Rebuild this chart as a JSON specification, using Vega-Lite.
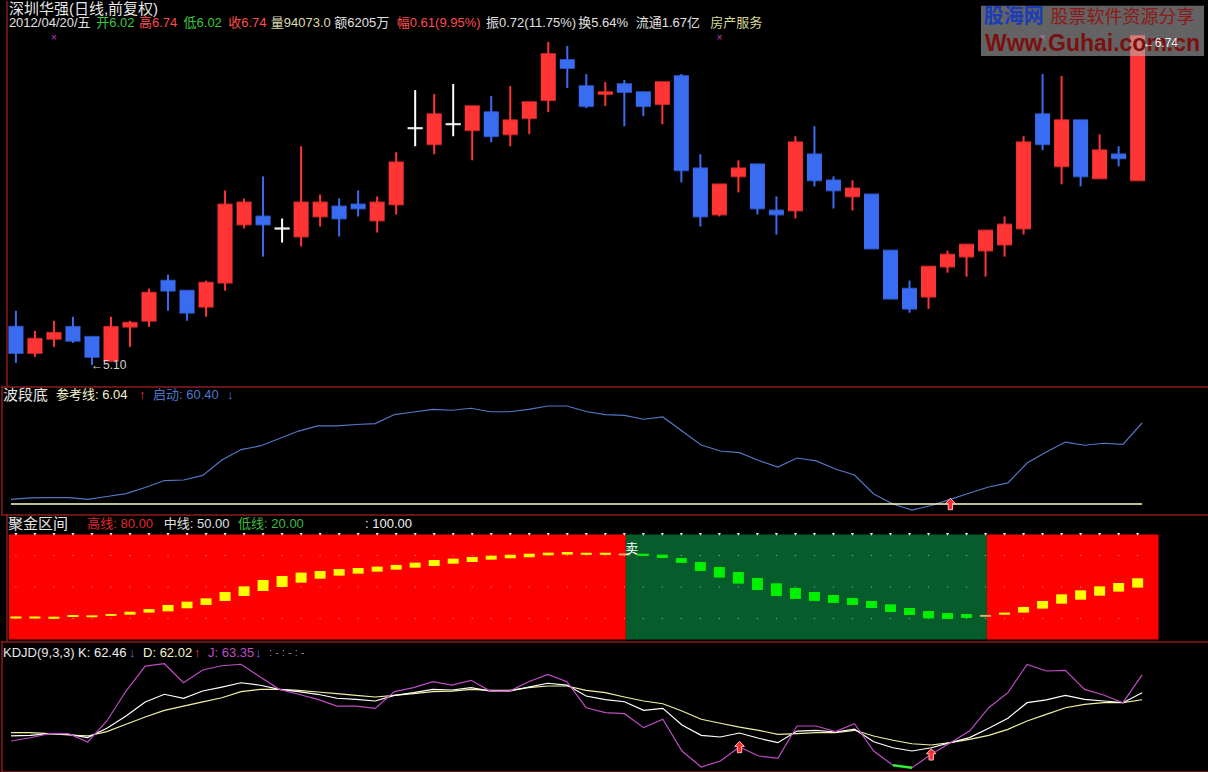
{
"$schema":"https://vega.github.io/schema/vega-lite/v6.json",
"background":"#000000",
"padding":0,
"spacing":0,
"bounds":"flush",
"config":{"view":{"stroke":null},"text":{"font":"Liberation Sans, Noto Sans CJK SC"}},
"datasets":{
"bars":[
{"i":0,"o":5.29,"h":5.37,"l":5.11,"c":5.16,"w":3.5,"K":28.6,"D":31.7,"J":23.8,"sh":22.0,"sl":20.0,"z":"up"},
{"i":1,"o":5.16,"h":5.27,"l":5.14,"c":5.23,"w":4.5,"K":29.2,"D":31.7,"J":26.9,"sh":22.0,"sl":20.0,"z":"up"},
{"i":2,"o":5.23,"h":5.32,"l":5.19,"c":5.26,"w":4.7,"K":30.8,"D":30.8,"J":30.8,"sh":21.7,"sl":19.7,"z":"up"},
{"i":3,"o":5.29,"h":5.34,"l":5.21,"c":5.22,"w":4.7,"K":30.2,"D":29.5,"J":30.8,"sh":23.3,"sl":21.4,"z":"up"},
{"i":4,"o":5.24,"h":5.24,"l":5.10,"c":5.14,"w":3.5,"K":27.0,"D":28.6,"J":22.9,"sh":23.0,"sl":21.2,"z":"up"},
{"i":5,"o":5.12,"h":5.34,"l":5.12,"c":5.29,"w":5.6,"K":35.9,"D":32.7,"J":42.9,"sh":24.3,"sl":22.5,"z":"up"},
{"i":6,"o":5.29,"h":5.32,"l":5.19,"c":5.31,"w":7.7,"K":47.6,"D":39.7,"J":71.4,"sh":26.5,"sl":23.6,"z":"up"},
{"i":7,"o":5.32,"h":5.48,"l":5.29,"c":5.46,"w":12.3,"K":61.0,"D":46.7,"J":95.2,"sh":29.0,"sl":25.6,"z":"up"},
{"i":8,"o":5.52,"h":5.55,"l":5.37,"c":5.47,"w":17.5,"K":68.3,"D":53.0,"J":97.4,"sh":32.9,"sl":26.8,"z":"up"},
{"i":9,"o":5.47,"h":5.47,"l":5.32,"c":5.36,"w":17.9,"K":64.5,"D":57.1,"J":79.3,"sh":36.0,"sl":29.7,"z":"up"},
{"i":10,"o":5.39,"h":5.52,"l":5.34,"c":5.51,"w":21.3,"K":71.4,"D":61.0,"J":91.4,"sh":39.2,"sl":32.9,"z":"up"},
{"i":11,"o":5.51,"h":5.97,"l":5.47,"c":5.90,"w":32.8,"K":75.2,"D":65.0,"J":95.5,"sh":45.2,"sl":36.7,"z":"up"},
{"i":12,"o":5.80,"h":5.93,"l":5.78,"c":5.91,"w":40.6,"K":79.3,"D":70.8,"J":96.9,"sh":50.6,"sl":41.4,"z":"up"},
{"i":13,"o":5.84,"h":6.04,"l":5.64,"c":5.80,"w":43.3,"K":76.9,"D":73.0,"J":84.8,"sh":56.7,"sl":46.2,"z":"up"},
{"i":14,"o":5.78,"h":5.83,"l":5.71,"c":5.78,"w":48.8,"K":73.0,"D":73.0,"J":73.0,"sh":60.5,"sl":50.0,"z":"up"},
{"i":15,"o":5.74,"h":6.19,"l":5.69,"c":5.91,"w":54.4,"K":70.8,"D":72.1,"J":68.3,"sh":63.7,"sl":54.1,"z":"up"},
{"i":16,"o":5.84,"h":5.95,"l":5.79,"c":5.91,"w":58.2,"K":68.3,"D":70.5,"J":63.5,"sh":65.2,"sl":57.9,"z":"up"},
{"i":17,"o":5.89,"h":5.93,"l":5.74,"c":5.83,"w":58.2,"K":64.5,"D":68.9,"J":57.1,"sh":67.1,"sl":60.8,"z":"up"},
{"i":18,"o":5.90,"h":5.97,"l":5.84,"c":5.88,"w":59.3,"K":63.5,"D":67.3,"J":57.1,"sh":68.1,"sl":62.7,"z":"up"},
{"i":19,"o":5.82,"h":5.94,"l":5.76,"c":5.91,"w":60.0,"K":61.9,"D":65.7,"J":54.9,"sh":69.4,"sl":64.6,"z":"up"},
{"i":20,"o":5.90,"h":6.16,"l":5.85,"c":6.11,"w":66.7,"K":67.3,"D":67.3,"J":70.8,"sh":71.0,"sl":66.5,"z":"up"},
{"i":21,"o":6.28,"h":6.47,"l":6.19,"c":6.28,"w":68.6,"K":69.8,"D":68.9,"J":74.6,"sh":73.2,"sl":68.4,"z":"up"},
{"i":22,"o":6.20,"h":6.45,"l":6.15,"c":6.35,"w":70.6,"K":73.0,"D":70.8,"J":80.3,"sh":75.7,"sl":70.0,"z":"up"},
{"i":23,"o":6.30,"h":6.50,"l":6.24,"c":6.30,"w":69.9,"K":72.4,"D":71.4,"J":77.1,"sh":77.0,"sl":72.2,"z":"up"},
{"i":24,"o":6.27,"h":6.39,"l":6.12,"c":6.39,"w":71.4,"K":74.6,"D":73.0,"J":81.6,"sh":78.6,"sl":73.8,"z":"up"},
{"i":25,"o":6.36,"h":6.44,"l":6.21,"c":6.24,"w":68.8,"K":71.4,"D":72.1,"J":71.4,"sh":79.8,"sl":76.0,"z":"up"},
{"i":26,"o":6.25,"h":6.49,"l":6.19,"c":6.32,"w":68.8,"K":71.4,"D":72.1,"J":71.4,"sh":80.8,"sl":77.3,"z":"up"},
{"i":27,"o":6.33,"h":6.41,"l":6.25,"c":6.41,"w":70.6,"K":75.2,"D":74.6,"J":80.3,"sh":81.7,"sl":78.3,"z":"up"},
{"i":28,"o":6.42,"h":6.71,"l":6.36,"c":6.65,"w":73.1,"K":78.8,"D":76.2,"J":87.3,"sh":82.7,"sl":80.2,"z":"up"},
{"i":29,"o":6.62,"h":6.69,"l":6.48,"c":6.58,"w":73.1,"K":77.1,"D":76.2,"J":80.3,"sh":83.3,"sl":80.8,"z":"up"},
{"i":30,"o":6.49,"h":6.55,"l":6.38,"c":6.39,"w":69.0,"K":66.7,"D":72.1,"J":55.5,"sh":82.6,"sl":80.6,"z":"up"},
{"i":31,"o":6.45,"h":6.51,"l":6.39,"c":6.46,"w":66.7,"K":63.3,"D":69.8,"J":50.8,"sh":82.6,"sl":80.6,"z":"up"},
{"i":32,"o":6.50,"h":6.52,"l":6.29,"c":6.46,"w":66.1,"K":61.2,"D":65.7,"J":49.8,"sh":81.9,"sl":80.1,"z":"turn"},
{"i":33,"o":6.46,"h":6.46,"l":6.34,"c":6.39,"w":63.2,"K":53.0,"D":61.9,"J":36.5,"sh":81.7,"sl":79.5,"z":"down"},
{"i":34,"o":6.40,"h":6.51,"l":6.30,"c":6.51,"w":64.9,"K":54.9,"D":59.3,"J":44.5,"sh":80.8,"sl":77.6,"z":"down"},
{"i":35,"o":6.54,"h":6.55,"l":6.01,"c":6.07,"w":54.4,"K":39.0,"D":52.4,"J":14.3,"sh":77.6,"sl":72.9,"z":"down"},
{"i":36,"o":6.08,"h":6.15,"l":5.79,"c":5.84,"w":44.0,"K":29.2,"D":44.5,"J":-1.0,"sh":73.8,"sl":65.2,"z":"down"},
{"i":37,"o":5.85,"h":6.00,"l":5.84,"c":6.00,"w":39.5,"K":27.6,"D":40.7,"J":4.8,"sh":69.0,"sl":58.9,"z":"down"},
{"i":38,"o":6.04,"h":6.12,"l":5.96,"c":6.08,"w":38.3,"K":31.4,"D":37.1,"J":18.1,"sh":64.3,"sl":53.2,"z":"down"},
{"i":39,"o":6.10,"h":6.10,"l":5.85,"c":5.88,"w":32.4,"K":26.4,"D":34.0,"J":9.5,"sh":58.6,"sl":47.1,"z":"down"},
{"i":40,"o":5.87,"h":5.94,"l":5.75,"c":5.85,"w":27.6,"K":22.2,"D":30.2,"J":7.3,"sh":53.5,"sl":41.4,"z":"down"},
{"i":41,"o":5.87,"h":6.24,"l":5.83,"c":6.21,"w":34.3,"K":33.3,"D":30.8,"J":38.1,"sh":49.2,"sl":38.6,"z":"down"},
{"i":42,"o":6.15,"h":6.29,"l":5.99,"c":6.02,"w":32.1,"K":34.0,"D":31.7,"J":38.1,"sh":45.2,"sl":36.7,"z":"down"},
{"i":43,"o":6.02,"h":6.04,"l":5.88,"c":5.97,"w":26.1,"K":32.4,"D":31.7,"J":32.7,"sh":42.4,"sl":34.8,"z":"down"},
{"i":44,"o":5.94,"h":6.02,"l":5.87,"c":5.98,"w":21.6,"K":35.0,"D":34.0,"J":40.3,"sh":39.5,"sl":32.9,"z":"down"},
{"i":45,"o":5.95,"h":5.95,"l":5.68,"c":5.68,"w":7.5,"K":23.1,"D":28.6,"J":14.3,"sh":36.7,"sl":30.0,"z":"down"},
{"i":46,"o":5.67,"h":5.67,"l":5.43,"c":5.43,"w":0.0,"K":17.4,"D":24.5,"J":0.7,"sh":33.5,"sl":26.2,"z":"down"},
{"i":47,"o":5.48,"h":5.52,"l":5.36,"c":5.38,"w":-4.5,"K":14.3,"D":21.2,"J":-1.6,"sh":30.0,"sl":23.3,"z":"down"},
{"i":48,"o":5.44,"h":5.59,"l":5.38,"c":5.59,"w":-1.1,"K":17.4,"D":20.0,"J":11.1,"sh":27.1,"sl":20.1,"z":"down"},
{"i":49,"o":5.59,"h":5.67,"l":5.56,"c":5.65,"w":3.4,"K":22.2,"D":22.2,"J":22.2,"sh":25.2,"sl":19.5,"z":"down"},
{"i":50,"o":5.64,"h":5.70,"l":5.54,"c":5.70,"w":8.2,"K":27.0,"D":25.4,"J":33.3,"sh":24.3,"sl":20.5,"z":"down"},
{"i":51,"o":5.67,"h":5.77,"l":5.54,"c":5.77,"w":12.7,"K":35.9,"D":29.2,"J":55.5,"sh":23.4,"sl":21.6,"z":"turn"},
{"i":52,"o":5.70,"h":5.84,"l":5.64,"c":5.80,"w":15.7,"K":45.4,"D":34.9,"J":69.8,"sh":25.6,"sl":23.6,"z":"up"},
{"i":53,"o":5.78,"h":6.24,"l":5.75,"c":6.21,"w":30.6,"K":60.3,"D":42.9,"J":96.8,"sh":31.0,"sl":25.6,"z":"up"},
{"i":54,"o":6.35,"h":6.55,"l":6.17,"c":6.20,"w":38.8,"K":62.9,"D":49.2,"J":90.5,"sh":36.7,"sl":29.4,"z":"up"},
{"i":55,"o":6.09,"h":6.54,"l":6.00,"c":6.32,"w":46.2,"K":67.3,"D":55.5,"J":91.1,"sh":43.0,"sl":34.1,"z":"up"},
{"i":56,"o":6.32,"h":6.32,"l":5.99,"c":6.04,"w":43.8,"K":63.5,"D":58.7,"J":73.0,"sh":46.8,"sl":37.9,"z":"up"},
{"i":57,"o":6.03,"h":6.25,"l":6.03,"c":6.17,"w":45.3,"K":61.9,"D":60.3,"J":67.6,"sh":50.6,"sl":41.7,"z":"up"},
{"i":58,"o":6.15,"h":6.19,"l":6.09,"c":6.13,"w":44.5,"K":60.3,"D":60.3,"J":60.3,"sh":53.8,"sl":45.6,"z":"up"},
{"i":59,"o":6.02,"h":6.74,"l":6.02,"c":6.74,"w":60.4,"K":69.8,"D":63.1,"J":86.7,"sh":58.3,"sl":49.4,"z":"up"}
],
"zones":[
{"a":-0.37,"b":32.08,"z":"red"},
{"a":32.08,"b":51.07,"z":"green"},
{"a":51.07,"b":60.1,"z":"red"}
]
},
"vconcat":[
{
"width":1208,"height":385,
"layer":[
{"data":{"name":"bars"},"mark":{"type":"rule","strokeWidth":2},
 "encoding":{"x":{"field":"i","type":"quantitative","scale":{"domain":[-0.522,62.49],"nice":false,"zero":false},"axis":null},
 "y":{"field":"l","type":"quantitative","scale":{"domain":[4.995,6.914],"nice":false,"zero":false},"axis":null},"y2":{"field":"h"},
 "color":{"condition":[{"test":"datum.c > datum.o","value":"#ff3434"},{"test":"datum.c < datum.o","value":"#3a6cf2"}],"value":"#ffffff"}}},
{"data":{"name":"bars"},"mark":{"type":"bar","size":15,"orient":"vertical"},
 "encoding":{"x":{"field":"i","type":"quantitative","scale":{"domain":[-0.522,62.49],"nice":false,"zero":false},"axis":null},
 "y":{"field":"o","type":"quantitative","scale":{"domain":[4.995,6.914],"nice":false,"zero":false},"axis":null},"y2":{"field":"c"},
 "color":{"condition":[{"test":"datum.c > datum.o","value":"#ff3434"},{"test":"datum.c < datum.o","value":"#3a6cf2"}],"value":"#ffffff"}}},
{"data":{"name":"bars"},"mark":{"type":"tick","size":15,"thickness":2,"orient":"horizontal"},
 "encoding":{"x":{"field":"i","type":"quantitative","scale":{"domain":[-0.522,62.49],"nice":false,"zero":false},"axis":null},
 "y":{"field":"c","type":"quantitative","scale":{"domain":[4.995,6.914],"nice":false,"zero":false},"axis":null},
 "color":{"condition":[{"test":"datum.c > datum.o","value":"#ff3434"},{"test":"datum.c < datum.o","value":"#3a6cf2"}],"value":"#ffffff"}}},
{"data":{"name":"bars"},"mark":{"type":"tick","size":15,"thickness":2,"orient":"horizontal"},
 "encoding":{"x":{"field":"i","type":"quantitative","scale":{"domain":[-0.522,62.49],"nice":false,"zero":false},"axis":null},
 "y":{"field":"o","type":"quantitative","scale":{"domain":[4.995,6.914],"nice":false,"zero":false},"axis":null},
 "color":{"condition":[{"test":"datum.c > datum.o","value":"#ff3434"},{"test":"datum.c < datum.o","value":"#3a6cf2"}],"value":"#ffffff"}}},
{"data":{"name":"bars"},"transform":[{"filter":"datum.i == 4"}],
 "mark":{"type":"text","text":"←5.10","align":"left","baseline":"middle","fontSize":12,"color":"#d4d4d4","dx":-1},
 "encoding":{"x":{"field":"i","type":"quantitative","scale":{"domain":[-0.522,62.49],"nice":false,"zero":false},"axis":null},
 "y":{"field":"l","type":"quantitative","scale":{"domain":[4.995,6.914],"nice":false,"zero":false},"axis":null}}},
{"data":{"name":"bars"},"transform":[{"filter":"datum.i == 2 || datum.i == 37 || datum.i == 54"}],
 "mark":{"type":"text","text":"×","align":"center","baseline":"middle","fontSize":10,"color":"#c040c0"},
 "encoding":{"x":{"field":"i","type":"quantitative","scale":{"domain":[-0.522,62.49],"nice":false,"zero":false},"axis":null},
 "y":{"datum":6.73,"type":"quantitative","scale":{"domain":[4.995,6.914],"nice":false,"zero":false},"axis":null}}},
{"data":{"values":[{}]},
 "encoding":{"y":{"datum":6.875,"type":"quantitative","scale":{"domain":[4.995,6.914],"nice":false,"zero":false},"axis":null}},
 "layer":[
  {"mark":{"type":"text","text":"深圳华强(日线,前复权)","align":"left","baseline":"middle","fontSize":15,"color":"#e6e6e6"},
   "encoding":{"x":{"datum":-0.37,"type":"quantitative","scale":{"domain":[-0.522,62.49],"nice":false,"zero":false},"axis":null}}}
 ]},
{"data":{"values":[{}]},
 "encoding":{"y":{"datum":6.805,"type":"quantitative","scale":{"domain":[4.995,6.914],"nice":false,"zero":false},"axis":null}},
 "layer":[
  {"mark":{"type":"text","text":"2012/04/20/五","align":"left","baseline":"middle","fontSize":13,"color":"#e0e0e0"},
   "encoding":{"x":{"datum":-0.37,"type":"quantitative","scale":{"domain":[-0.522,62.49],"nice":false,"zero":false},"axis":null}}},
  {"mark":{"type":"text","text":"开6.02","align":"left","baseline":"middle","fontSize":13,"color":"#3cc83c"},
   "encoding":{"x":{"datum":4.225,"type":"quantitative","scale":{"domain":[-0.522,62.49],"nice":false,"zero":false},"axis":null}}},
  {"mark":{"type":"text","text":"高6.74","align":"left","baseline":"middle","fontSize":13,"color":"#ff4c4c"},
   "encoding":{"x":{"datum":6.468,"type":"quantitative","scale":{"domain":[-0.522,62.49],"nice":false,"zero":false},"axis":null}}},
  {"mark":{"type":"text","text":"低6.02","align":"left","baseline":"middle","fontSize":13,"color":"#3cc83c"},
   "encoding":{"x":{"datum":8.816,"type":"quantitative","scale":{"domain":[-0.522,62.49],"nice":false,"zero":false},"axis":null}}},
  {"mark":{"type":"text","text":"收6.74","align":"left","baseline":"middle","fontSize":13,"color":"#ff4c4c"},
   "encoding":{"x":{"datum":11.163,"type":"quantitative","scale":{"domain":[-0.522,62.49],"nice":false,"zero":false},"axis":null}}},
  {"mark":{"type":"text","text":"量94073.0","align":"left","baseline":"middle","fontSize":13,"color":"#dcdcb0"},
   "encoding":{"x":{"datum":13.406,"type":"quantitative","scale":{"domain":[-0.522,62.49],"nice":false,"zero":false},"axis":null}}},
  {"mark":{"type":"text","text":"额6205万","align":"left","baseline":"middle","fontSize":13,"color":"#e0e0e0"},
   "encoding":{"x":{"datum":16.745,"type":"quantitative","scale":{"domain":[-0.522,62.49],"nice":false,"zero":false},"axis":null}}},
  {"mark":{"type":"text","text":"幅0.61(9.95%)","align":"left","baseline":"middle","fontSize":13,"color":"#ff4c4c"},
   "encoding":{"x":{"datum":20.031,"type":"quantitative","scale":{"domain":[-0.522,62.49],"nice":false,"zero":false},"axis":null}}},
  {"mark":{"type":"text","text":"振0.72(11.75%)","align":"left","baseline":"middle","fontSize":13,"color":"#e0e0e0"},
   "encoding":{"x":{"datum":24.726,"type":"quantitative","scale":{"domain":[-0.522,62.49],"nice":false,"zero":false},"axis":null}}},
  {"mark":{"type":"text","text":"换5.64%","align":"left","baseline":"middle","fontSize":13,"color":"#e0e0e0"},
   "encoding":{"x":{"datum":29.578,"type":"quantitative","scale":{"domain":[-0.522,62.49],"nice":false,"zero":false},"axis":null}}},
  {"mark":{"type":"text","text":"流通1.67亿","align":"left","baseline":"middle","fontSize":13,"color":"#e0e0e0"},
   "encoding":{"x":{"datum":32.603,"type":"quantitative","scale":{"domain":[-0.522,62.49],"nice":false,"zero":false},"axis":null}}},
  {"mark":{"type":"text","text":"房产服务","align":"left","baseline":"middle","fontSize":13,"color":"#d8d890"},
   "encoding":{"x":{"datum":36.516,"type":"quantitative","scale":{"domain":[-0.522,62.49],"nice":false,"zero":false},"axis":null}}}
 ]},
{"data":{"values":[{}]},"mark":{"type":"rect","color":"#b4b4b4","opacity":0.55},
 "encoding":{"x":{"datum":50.76,"type":"quantitative","scale":{"domain":[-0.522,62.49],"nice":false,"zero":false},"axis":null},"x2":{"datum":62.49},
 "y":{"datum":6.89,"type":"quantitative","scale":{"domain":[4.995,6.914],"nice":false,"zero":false},"axis":null},"y2":{"datum":6.64}}},
{"data":{"values":[{}]},"mark":{"type":"text","text":"股海网","align":"left","baseline":"middle","fontSize":20,"fontWeight":"bold","color":"#1a3cb8"},
 "encoding":{"x":{"datum":50.91,"type":"quantitative","scale":{"domain":[-0.522,62.49],"nice":false,"zero":false},"axis":null},
 "y":{"datum":6.835,"type":"quantitative","scale":{"domain":[4.995,6.914],"nice":false,"zero":false},"axis":null}}},
{"data":{"values":[{}]},"mark":{"type":"text","text":"股票软件资源分享","align":"left","baseline":"middle","fontSize":18,"color":"#8c1a1a"},
 "encoding":{"x":{"datum":54.41,"type":"quantitative","scale":{"domain":[-0.522,62.49],"nice":false,"zero":false},"axis":null},
 "y":{"datum":6.83,"type":"quantitative","scale":{"domain":[4.995,6.914],"nice":false,"zero":false},"axis":null}}},
{"data":{"values":[{}]},"mark":{"type":"text","text":"Www.Guhai.com.cn","align":"left","baseline":"middle","fontSize":23,"fontWeight":"bold","color":"#7a1010"},
 "encoding":{"x":{"datum":50.97,"type":"quantitative","scale":{"domain":[-0.522,62.49],"nice":false,"zero":false},"axis":null},
 "y":{"datum":6.70,"type":"quantitative","scale":{"domain":[4.995,6.914],"nice":false,"zero":false},"axis":null}}},
{"data":{"name":"bars"},"transform":[{"filter":"datum.i == 59"}],
 "mark":{"type":"text","text":"←6.74","align":"left","baseline":"middle","fontSize":12,"color":"#f0f0f0","dx":5,"dy":7},
 "encoding":{"x":{"field":"i","type":"quantitative","scale":{"domain":[-0.522,62.49],"nice":false,"zero":false},"axis":null},
 "y":{"field":"h","type":"quantitative","scale":{"domain":[4.995,6.914],"nice":false,"zero":false},"axis":null}}},
{"data":{"values":[{}]},"mark":{"type":"rule","color":"#8c1c1c","strokeWidth":1.5},
 "encoding":{"x":{"datum":-0.47,"type":"quantitative","scale":{"domain":[-0.522,62.49],"nice":false,"zero":false},"axis":null}}}
]
},
{
"width":1208,"height":128,
"layer":[
{"data":{"name":"bars"},"mark":{"type":"line","color":"#5577c6","strokeWidth":1.2},
 "encoding":{"x":{"field":"i","type":"quantitative","scale":{"domain":[-0.522,62.49],"nice":false,"zero":false},"axis":null},
 "y":{"field":"w","type":"quantitative","scale":{"domain":[-7.46,88.0],"nice":false,"zero":false},"axis":null}}},
{"data":{"values":[{}]},"mark":{"type":"rule","color":"#ffffc4","strokeWidth":1.5},
 "encoding":{"x":{"datum":0,"type":"quantitative","scale":{"domain":[-0.522,62.49],"nice":false,"zero":false},"axis":null},"x2":{"datum":59},
 "y":{"datum":0,"type":"quantitative","scale":{"domain":[-7.46,88.0],"nice":false,"zero":false},"axis":null}}},
{"data":{"name":"bars"},"transform":[{"filter":"datum.i == 49"}],
 "mark":{"type":"point","shape":"M0,-1L0.85,-0.1L0.38,-0.1L0.38,1L-0.38,1L-0.38,-0.1L-0.85,-0.1Z","size":130,"filled":true,"fill":"#ff2a2a","stroke":"#ffb8b8","strokeWidth":1,"opacity":1},
 "encoding":{"x":{"field":"i","type":"quantitative","scale":{"domain":[-0.522,62.49],"nice":false,"zero":false},"axis":null},
 "y":{"datum":0,"type":"quantitative","scale":{"domain":[-7.46,88.0],"nice":false,"zero":false},"axis":null}}},
{"data":{"values":[{}]},
 "encoding":{"y":{"datum":81.3,"type":"quantitative","scale":{"domain":[-7.46,88.0],"nice":false,"zero":false},"axis":null}},
 "layer":[
  {"mark":{"type":"text","text":"波段底","align":"left","baseline":"middle","fontSize":15,"color":"#e6e6e6"},
   "encoding":{"x":{"datum":-0.417,"type":"quantitative","scale":{"domain":[-0.522,62.49],"nice":false,"zero":false},"axis":null}}},
  {"mark":{"type":"text","text":"参考线: 6.04","align":"left","baseline":"middle","fontSize":13,"color":"#f4f4d0"},
   "encoding":{"x":{"datum":2.347,"type":"quantitative","scale":{"domain":[-0.522,62.49],"nice":false,"zero":false},"axis":null}}},
  {"mark":{"type":"text","text":"↑","align":"left","baseline":"middle","fontSize":13,"color":"#ff3a3a"},
   "encoding":{"x":{"datum":6.677,"type":"quantitative","scale":{"domain":[-0.522,62.49],"nice":false,"zero":false},"axis":null}}},
  {"mark":{"type":"text","text":"启动: 60.40","align":"left","baseline":"middle","fontSize":13,"color":"#4a78cc"},
   "encoding":{"x":{"datum":7.407,"type":"quantitative","scale":{"domain":[-0.522,62.49],"nice":false,"zero":false},"axis":null}}},
  {"mark":{"type":"text","text":"↓","align":"left","baseline":"middle","fontSize":13,"color":"#4a78cc"},
   "encoding":{"x":{"datum":11.268,"type":"quantitative","scale":{"domain":[-0.522,62.49],"nice":false,"zero":false},"axis":null}}}
 ]},
{"data":{"values":[{}]},"mark":{"type":"rule","color":"#8c1c1c","strokeWidth":1.5},
 "encoding":{"y":{"datum":87.25,"type":"quantitative","scale":{"domain":[-7.46,88.0],"nice":false,"zero":false},"axis":null}}},
{"data":{"values":[{}]},"mark":{"type":"rule","color":"#8c1c1c","strokeWidth":1.5},
 "encoding":{"x":{"datum":-0.47,"type":"quantitative","scale":{"domain":[-0.522,62.49],"nice":false,"zero":false},"axis":null}}}
]
},
{
"width":1208,"height":127,
"resolve":{"scale":{"color":"independent"}},
"layer":[
{"data":{"name":"zones"},"mark":{"type":"rect"},
 "encoding":{"x":{"field":"a","type":"quantitative","scale":{"domain":[-0.522,62.49],"nice":false,"zero":false},"axis":null},"x2":{"field":"b"},
 "y":{"datum":0,"type":"quantitative","scale":{"domain":[-1.43,119.5],"nice":false,"zero":false},"axis":null},"y2":{"datum":100},
 "color":{"field":"z","type":"nominal","scale":{"domain":["red","green"],"range":["#ff0000","#075c2c"]},"legend":null}}},
{"data":{"name":"bars"},"mark":{"type":"point","shape":"triangle-down","filled":true,"size":10,"color":"#ffffff","opacity":0.9},
 "encoding":{"x":{"field":"i","type":"quantitative","scale":{"domain":[-0.522,62.49],"nice":false,"zero":false},"axis":null},
 "y":{"datum":100,"type":"quantitative","scale":{"domain":[-1.43,119.5],"nice":false,"zero":false},"axis":null}}},
{"data":{"name":"bars"},"mark":{"type":"point","shape":"circle","filled":true,"size":2,"color":"#e0e0e0","opacity":0.5},
 "encoding":{"x":{"field":"i","type":"quantitative","scale":{"domain":[-0.522,62.49],"nice":false,"zero":false},"axis":null},
 "y":{"datum":80,"type":"quantitative","scale":{"domain":[-1.43,119.5],"nice":false,"zero":false},"axis":null}}},
{"data":{"name":"bars"},"mark":{"type":"point","shape":"circle","filled":true,"size":2,"color":"#e0e0e0","opacity":0.5},
 "encoding":{"x":{"field":"i","type":"quantitative","scale":{"domain":[-0.522,62.49],"nice":false,"zero":false},"axis":null},
 "y":{"datum":50,"type":"quantitative","scale":{"domain":[-1.43,119.5],"nice":false,"zero":false},"axis":null}}},
{"data":{"name":"bars"},"mark":{"type":"point","shape":"circle","filled":true,"size":2,"color":"#e0e0e0","opacity":0.5},
 "encoding":{"x":{"field":"i","type":"quantitative","scale":{"domain":[-0.522,62.49],"nice":false,"zero":false},"axis":null},
 "y":{"datum":20,"type":"quantitative","scale":{"domain":[-1.43,119.5],"nice":false,"zero":false},"axis":null}}},
{"data":{"name":"bars"},"mark":{"type":"bar","size":11,"orient":"vertical"},
 "encoding":{"x":{"field":"i","type":"quantitative","scale":{"domain":[-0.522,62.49],"nice":false,"zero":false},"axis":null},
 "y":{"field":"sl","type":"quantitative","scale":{"domain":[-1.43,119.5],"nice":false,"zero":false},"axis":null},"y2":{"field":"sh"},
 "color":{"field":"z","type":"nominal","scale":{"domain":["up","down","turn"],"range":["#ffff00","#00f000","#e0b070"]},"legend":null}}},
{"data":{"name":"bars"},"transform":[{"filter":"datum.i == 32"}],
 "mark":{"type":"text","text":"卖","align":"left","baseline":"middle","fontSize":13,"color":"#ffffff","dx":1},
 "encoding":{"x":{"field":"i","type":"quantitative","scale":{"domain":[-0.522,62.49],"nice":false,"zero":false},"axis":null},
 "y":{"datum":85.7,"type":"quantitative","scale":{"domain":[-1.43,119.5],"nice":false,"zero":false},"axis":null}}},
{"data":{"values":[{}]},
 "encoding":{"y":{"datum":110.3,"type":"quantitative","scale":{"domain":[-1.43,119.5],"nice":false,"zero":false},"axis":null}},
 "layer":[
  {"mark":{"type":"text","text":"聚金区间","align":"left","baseline":"middle","fontSize":15,"color":"#e6e6e6"},
   "encoding":{"x":{"datum":-0.417,"type":"quantitative","scale":{"domain":[-0.522,62.49],"nice":false,"zero":false},"axis":null}}},
  {"mark":{"type":"text","text":"高线: 80.00","align":"left","baseline":"middle","fontSize":13,"color":"#e02828"},
   "encoding":{"x":{"datum":3.756,"type":"quantitative","scale":{"domain":[-0.522,62.49],"nice":false,"zero":false},"axis":null}}},
  {"mark":{"type":"text","text":"中线: 50.00","align":"left","baseline":"middle","fontSize":13,"color":"#e0e0e0"},
   "encoding":{"x":{"datum":7.773,"type":"quantitative","scale":{"domain":[-0.522,62.49],"nice":false,"zero":false},"axis":null}}},
  {"mark":{"type":"text","text":"低线: 20.00","align":"left","baseline":"middle","fontSize":13,"color":"#3cbc3c"},
   "encoding":{"x":{"datum":11.685,"type":"quantitative","scale":{"domain":[-0.522,62.49],"nice":false,"zero":false},"axis":null}}},
  {"mark":{"type":"text","text":": 100.00","align":"left","baseline":"middle","fontSize":13,"color":"#f0f0f0"},
   "encoding":{"x":{"datum":18.362,"type":"quantitative","scale":{"domain":[-0.522,62.49],"nice":false,"zero":false},"axis":null}}}
 ]},
{"data":{"values":[{}]},"mark":{"type":"rule","color":"#8c1c1c","strokeWidth":1.5},
 "encoding":{"y":{"datum":118.55,"type":"quantitative","scale":{"domain":[-1.43,119.5],"nice":false,"zero":false},"axis":null}}},
{"data":{"values":[{}]},"mark":{"type":"rule","color":"#8c1c1c","strokeWidth":1.5},
 "encoding":{"x":{"datum":-0.47,"type":"quantitative","scale":{"domain":[-0.522,62.49],"nice":false,"zero":false},"axis":null}}}
]
},
{
"width":1208,"height":132,
"layer":[
{"data":{"name":"bars"},"mark":{"type":"line","color":"#f0f0a0","strokeWidth":1.2},
 "encoding":{"x":{"field":"i","type":"quantitative","scale":{"domain":[-0.522,62.49],"nice":false,"zero":false},"axis":null},
 "y":{"field":"D","type":"quantitative","scale":{"domain":[-6.67,119.05],"nice":false,"zero":false},"axis":null}}},
{"data":{"name":"bars"},"mark":{"type":"line","color":"#ffffff","strokeWidth":1.2},
 "encoding":{"x":{"field":"i","type":"quantitative","scale":{"domain":[-0.522,62.49],"nice":false,"zero":false},"axis":null},
 "y":{"field":"K","type":"quantitative","scale":{"domain":[-6.67,119.05],"nice":false,"zero":false},"axis":null}}},
{"data":{"name":"bars"},"mark":{"type":"line","color":"#c04cc4","strokeWidth":1.2},
 "encoding":{"x":{"field":"i","type":"quantitative","scale":{"domain":[-0.522,62.49],"nice":false,"zero":false},"axis":null},
 "y":{"field":"J","type":"quantitative","scale":{"domain":[-6.67,119.05],"nice":false,"zero":false},"axis":null}}},
{"data":{"name":"bars"},"transform":[{"filter":"datum.i >= 46 && datum.i <= 47"}],"mark":{"type":"line","color":"#33ee33","strokeWidth":2.5},
 "encoding":{"x":{"field":"i","type":"quantitative","scale":{"domain":[-0.522,62.49],"nice":false,"zero":false},"axis":null},
 "y":{"field":"J","type":"quantitative","scale":{"domain":[-6.67,119.05],"nice":false,"zero":false},"axis":null}}},
{"data":{"name":"bars"},"transform":[{"filter":"datum.i == 38 || datum.i == 48"}],
 "mark":{"type":"point","shape":"M0,-1L0.85,-0.1L0.38,-0.1L0.38,1L-0.38,1L-0.38,-0.1L-0.85,-0.1Z","size":130,"filled":true,"fill":"#ff2a2a","stroke":"#ffb8b8","strokeWidth":1,"opacity":1},
 "encoding":{"x":{"field":"i","type":"quantitative","scale":{"domain":[-0.522,62.49],"nice":false,"zero":false},"axis":null},
 "y":{"field":"J","type":"quantitative","scale":{"domain":[-6.67,119.05],"nice":false,"zero":false},"axis":null}}},
{"data":{"values":[{}]},
 "encoding":{"y":{"datum":107.9,"type":"quantitative","scale":{"domain":[-6.67,119.05],"nice":false,"zero":false},"axis":null}},
 "layer":[
  {"mark":{"type":"text","text":"KDJD(9,3,3)","align":"left","baseline":"middle","fontSize":13,"color":"#e6e6e6"},
   "encoding":{"x":{"datum":-0.417,"type":"quantitative","scale":{"domain":[-0.522,62.49],"nice":false,"zero":false},"axis":null}}},
  {"mark":{"type":"text","text":"K: 62.46","align":"left","baseline":"middle","fontSize":13,"color":"#f0f0f0"},
   "encoding":{"x":{"datum":3.495,"type":"quantitative","scale":{"domain":[-0.522,62.49],"nice":false,"zero":false},"axis":null}}},
  {"mark":{"type":"text","text":"↓","align":"left","baseline":"middle","fontSize":13,"color":"#4a78cc"},
   "encoding":{"x":{"datum":6.155,"type":"quantitative","scale":{"domain":[-0.522,62.49],"nice":false,"zero":false},"axis":null}}},
  {"mark":{"type":"text","text":"D: 62.02","align":"left","baseline":"middle","fontSize":13,"color":"#f4f4d0"},
   "encoding":{"x":{"datum":6.886,"type":"quantitative","scale":{"domain":[-0.522,62.49],"nice":false,"zero":false},"axis":null}}},
  {"mark":{"type":"text","text":"↑","align":"left","baseline":"middle","fontSize":13,"color":"#ff3a3a"},
   "encoding":{"x":{"datum":9.546,"type":"quantitative","scale":{"domain":[-0.522,62.49],"nice":false,"zero":false},"axis":null}}},
  {"mark":{"type":"text","text":"J: 63.35","align":"left","baseline":"middle","fontSize":13,"color":"#c04cc4"},
   "encoding":{"x":{"datum":10.276,"type":"quantitative","scale":{"domain":[-0.522,62.49],"nice":false,"zero":false},"axis":null}}},
  {"mark":{"type":"text","text":"↓","align":"left","baseline":"middle","fontSize":13,"color":"#4a78cc"},
   "encoding":{"x":{"datum":12.728,"type":"quantitative","scale":{"domain":[-0.522,62.49],"nice":false,"zero":false},"axis":null}}},
  {"mark":{"type":"text","text":": - : - : -","align":"left","baseline":"middle","fontSize":11,"color":"#909090"},
   "encoding":{"x":{"datum":13.459,"type":"quantitative","scale":{"domain":[-0.522,62.49],"nice":false,"zero":false},"axis":null}}}
 ]},
{"data":{"values":[{}]},"mark":{"type":"rule","color":"#8c1c1c","strokeWidth":1.5},
 "encoding":{"y":{"datum":118.1,"type":"quantitative","scale":{"domain":[-6.67,119.05],"nice":false,"zero":false},"axis":null}}},
{"data":{"values":[{}]},"mark":{"type":"rule","color":"#8c1c1c","strokeWidth":1.5},
 "encoding":{"y":{"datum":-5.72,"type":"quantitative","scale":{"domain":[-6.67,119.05],"nice":false,"zero":false},"axis":null}}},
{"data":{"values":[{}]},"mark":{"type":"rule","color":"#8c1c1c","strokeWidth":1.5},
 "encoding":{"x":{"datum":-0.47,"type":"quantitative","scale":{"domain":[-0.522,62.49],"nice":false,"zero":false},"axis":null}}}
]
}
]
}
